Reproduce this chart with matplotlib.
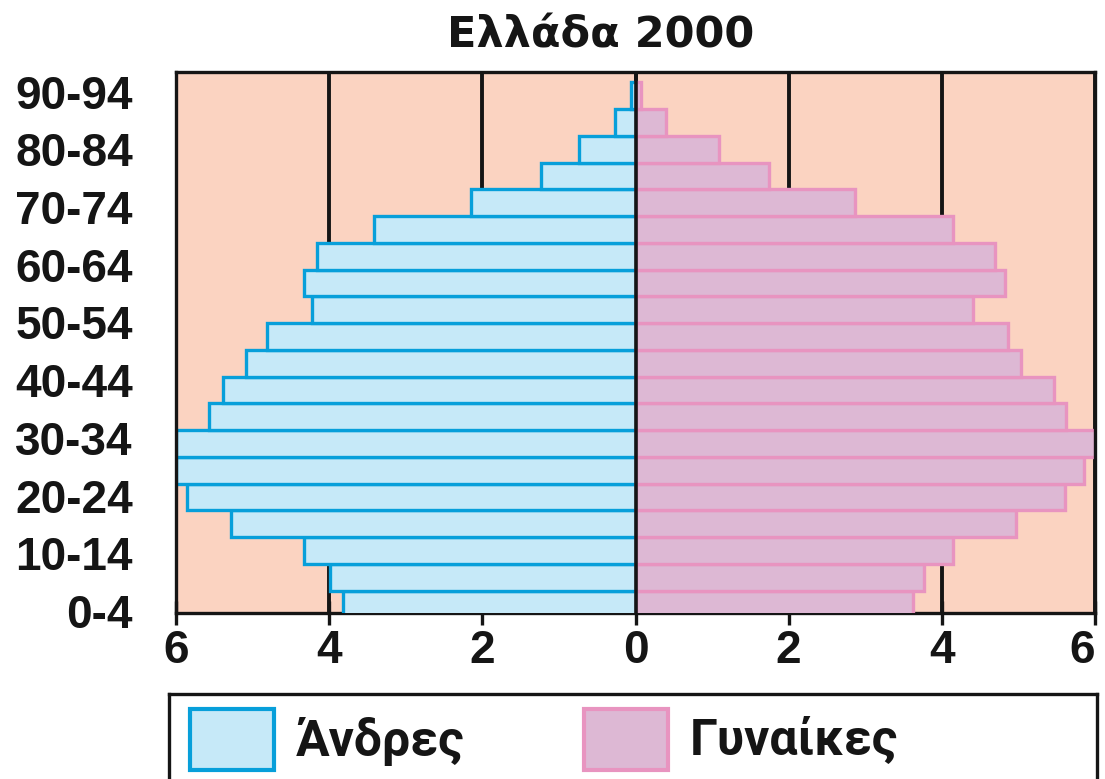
import numpy as np
import matplotlib
matplotlib.use('Agg')
import matplotlib.pyplot as plt
from matplotlib.patches import Rectangle

# %%
# Data (% of population), bottom bar first
men = [3.82, 3.99, 4.33, 5.28, 5.85, 6.0, 6.0, 5.57, 5.39, 5.09,
       4.81, 4.22, 4.33, 4.16, 3.42, 2.15, 1.23, 0.74, 0.27, 0.06]
women = [3.63, 3.77, 4.14, 4.97, 5.61, 5.86, 6.0, 5.62, 5.47, 5.04,
         4.87, 4.41, 4.83, 4.70, 4.15, 2.86, 1.74, 1.09, 0.40, 0.07]
age_labels = ['0-4', '10-14', '20-24', '30-34', '40-44',
              '50-54', '60-64', '70-74', '80-84', '90-94']
x_ticks = [-6, -4, -2, 0, 2, 4, 6]
legend_labels = ['Άνδρες', 'Γυναίκες']

bg = '#fbd3c1'
men_fill, men_edge = '#c6e9f8', '#079fda'
women_fill, women_edge = '#ddb8d4', '#e894c0'
ink = '#151515'

W, H = 1105, 779
fig = plt.figure(figsize=(W / 100, H / 100), dpi=100)

# %%
# Pyramid
ax = fig.add_axes([176 / W, 1 - 613.3 / H, (1095 - 176) / W, (613.3 - 71.7) / H])
ax.set_facecolor(bg)
ax.set_axisbelow(True)

y = np.arange(len(men))
ax.barh(y, -np.array(men), height=1.0, color=men_fill, edgecolor=men_edge, linewidth=2.4)
ax.barh(y, women, height=1.0, color=women_fill, edgecolor=women_edge, linewidth=2.4)
ax.axvline(0, color=ink, linewidth=2.6, zorder=5)

ax.set_xlim(-6, 6)
ax.set_ylim(-0.35, 19.9)
ax.set_xticks(x_ticks)
ax.set_xticklabels([str(abs(v)) for v in x_ticks])
ax.grid(axis='x', color=ink, linewidth=2.8)

ax.set_yticks(np.linspace(-0.26, 19.15, len(age_labels)))
ax.set_yticklabels(age_labels)
ax.tick_params(axis='y', length=0, pad=31)
ax.tick_params(axis='x', direction='inout', length=17, width=2.4, color=ink, pad=3)
for lab in ax.get_xticklabels() + ax.get_yticklabels():
    lab.set_fontfamily('Liberation Sans')
    lab.set_fontweight('bold')
    lab.set_fontsize(33)
    lab.set_color(ink)
# last tick label sits right at the figure edge, nudge it in a little
ax.get_xticklabels()[-1].set_horizontalalignment('right')
ax.get_xticklabels()[-1].set_x(6.16)

for side in ['left', 'right', 'top', 'bottom']:
    ax.spines[side].set_color(ink)
    ax.spines[side].set_linewidth(2.4)
ax.spines['bottom'].set_zorder(0.6)

fig.text(601 / W, 1 - 36 / H, 'Ελλάδα 2000', ha='center', va='center',
         fontsize=31, fontweight='heavy', family='DejaVu Sans', color=ink)

# %%
# Legend box (bottom edge runs off the figure)
lax = fig.add_axes([169 / W, -0.05, (1097 - 169) / W, (779 - 694) / H + 0.05])
lax.set_xlim(169, 1097)
lax.set_ylim(779 + 0.05 * H, 694)
lax.set_xticks([])
lax.set_yticks([])
for side in lax.spines.values():
    side.set_color(ink)
    side.set_linewidth(2.4)

patches = [(190, men_fill, men_edge), (584, women_fill, women_edge)]
for (px, fc, ec), lab in zip(patches, legend_labels):
    lax.add_patch(Rectangle((px, 709), 84, 61, facecolor=fc, edgecolor=ec, linewidth=3))
    lax.text(px + 106, 741, lab, ha='left', va='center', fontsize=36,
             family='Roboto', fontweight='bold', color=ink)

fig.savefig('out.png', dpi=100)
